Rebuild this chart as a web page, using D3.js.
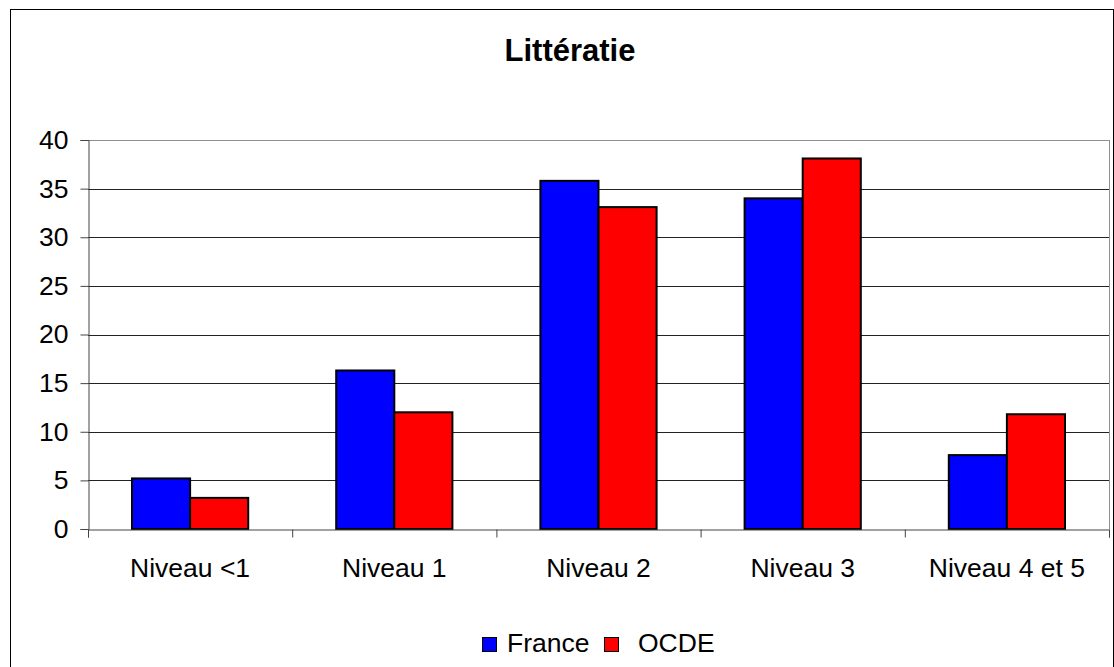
<!DOCTYPE html>
<html>
<head>
<meta charset="utf-8">
<script src="https://cdn.jsdelivr.net/npm/d3@7"></script>
<style>
  body { margin: 0; background: #fff; }
  svg { font-family: "Liberation Sans", Arial, sans-serif; }
</style>
</head>
<body>
<script>
const w = 1114;
const h = 667;

const categories = ["Niveau <1", "Niveau 1", "Niveau 2", "Niveau 3", "Niveau 4 et 5"];
const series = ["France", "OCDE"];
const france = [5.2, 16.3, 35.8, 34.0, 7.6];
const ocde = [3.2, 12.0, 33.1, 38.1, 11.8];
const colors = ["#0000ff", "#ff0000"];
const yTicks = [0, 5, 10, 15, 20, 25, 30, 35, 40];

const plot = { left: 88, right: 1109, top: 140, bottom: 529 };
const fontSize = 26.5;

const svg = d3.select("body").append("svg").attr("width", w).attr("height", h);

// outer frame
svg.append("rect")
  .attr("x", 10.5).attr("y", 9.5)
  .attr("width", w - 11).attr("height", h)
  .attr("fill", "none").attr("stroke", "#000").attr("stroke-width", 1);

svg.append("text")
  .attr("x", 570).attr("y", 61)
  .attr("text-anchor", "middle")
  .attr("font-size", 31).attr("font-weight", "bold")
  .text("Littératie");

const yScale = d3.scaleLinear().domain([0, 40]).range([plot.bottom, plot.top]);
const xScale = d3.scaleBand().domain(categories).range([plot.left, plot.right]);
const xInner = d3.scaleBand().domain(series).range([44, xScale.bandwidth() - 44]);

// gridlines
svg.append("g")
  .selectAll("line")
  .data(yTicks.filter((d) => d > 0))
  .enter()
  .append("line")
  .attr("x1", plot.left).attr("x2", plot.right)
  .attr("y1", (d) => Math.round(yScale(d)) + 0.5)
  .attr("y2", (d) => Math.round(yScale(d)) + 0.5)
  .attr("stroke", (d) => (d === 40 ? "#909090" : "#222"))
  .attr("stroke-width", 1);

// right border of plot area
svg.append("line")
  .attr("x1", plot.right + 0.5).attr("x2", plot.right + 0.5)
  .attr("y1", plot.top).attr("y2", plot.bottom)
  .attr("stroke", "#909090");

// y axis
const yAxis = d3.axisLeft(yScale).tickValues(yTicks).tickSize(8).tickPadding(12);
const gy = svg.append("g")
  .attr("transform", `translate(${plot.left + 0.5}, 0)`)
  .call(yAxis);
gy.attr("font-size", null).attr("font-family", null);
gy.select(".domain").attr("stroke", "#444");
gy.selectAll(".tick line").attr("stroke", "#444");
gy.selectAll(".tick text").attr("font-size", fontSize).attr("fill", "#000");

// bars
const groups = svg.append("g")
  .selectAll("g")
  .data(categories)
  .enter()
  .append("g")
  .attr("transform", (d) => `translate(${xScale(d)}, 0)`);

groups.selectAll("rect")
  .data((d, i) => [
    { s: "France", v: france[i] },
    { s: "OCDE", v: ocde[i] },
  ])
  .enter()
  .append("rect")
  .attr("x", (d) => xInner(d.s))
  .attr("y", (d) => yScale(d.v))
  .attr("width", xInner.bandwidth())
  .attr("height", (d) => yScale(0) - yScale(d.v))
  .attr("fill", (d, i) => colors[i])
  .attr("stroke", "#000")
  .attr("stroke-width", 2);

// x axis (ticks on category boundaries)
const xAxis = d3.axisBottom(d3.scaleLinear().domain([0, 5]).range([plot.left, plot.right]))
  .tickValues([0, 1, 2, 3, 4, 5]).tickSize(8).tickFormat("");
const gx = svg.append("g")
  .attr("transform", `translate(0, ${plot.bottom + 0.5})`)
  .call(xAxis);
gx.select(".domain").attr("stroke", "#444");
gx.selectAll(".tick line").attr("stroke", "#444");

svg.append("g")
  .selectAll("text")
  .data(categories)
  .enter()
  .append("text")
  .attr("x", (d) => xScale(d) + xScale.bandwidth() / 2)
  .attr("y", 577)
  .attr("text-anchor", "middle")
  .attr("font-size", fontSize)
  .text((d) => d);

// legend
const legendItems = [
  { name: series[0], color: colors[0], sx: 482, tx: 507 },
  { name: series[1], color: colors[1], sx: 604, tx: 638 },
];
const legend = svg.append("g");
legend.selectAll("rect")
  .data(legendItems)
  .enter()
  .append("rect")
  .attr("x", (d) => d.sx + 0.5).attr("y", 637.5)
  .attr("width", 14).attr("height", 14)
  .attr("fill", (d) => d.color)
  .attr("stroke", "#000").attr("stroke-width", 1);
legend.selectAll("text")
  .data(legendItems)
  .enter()
  .append("text")
  .attr("x", (d) => d.tx).attr("y", 652)
  .attr("font-size", fontSize)
  .text((d) => d.name);
</script>
</body>
</html>
